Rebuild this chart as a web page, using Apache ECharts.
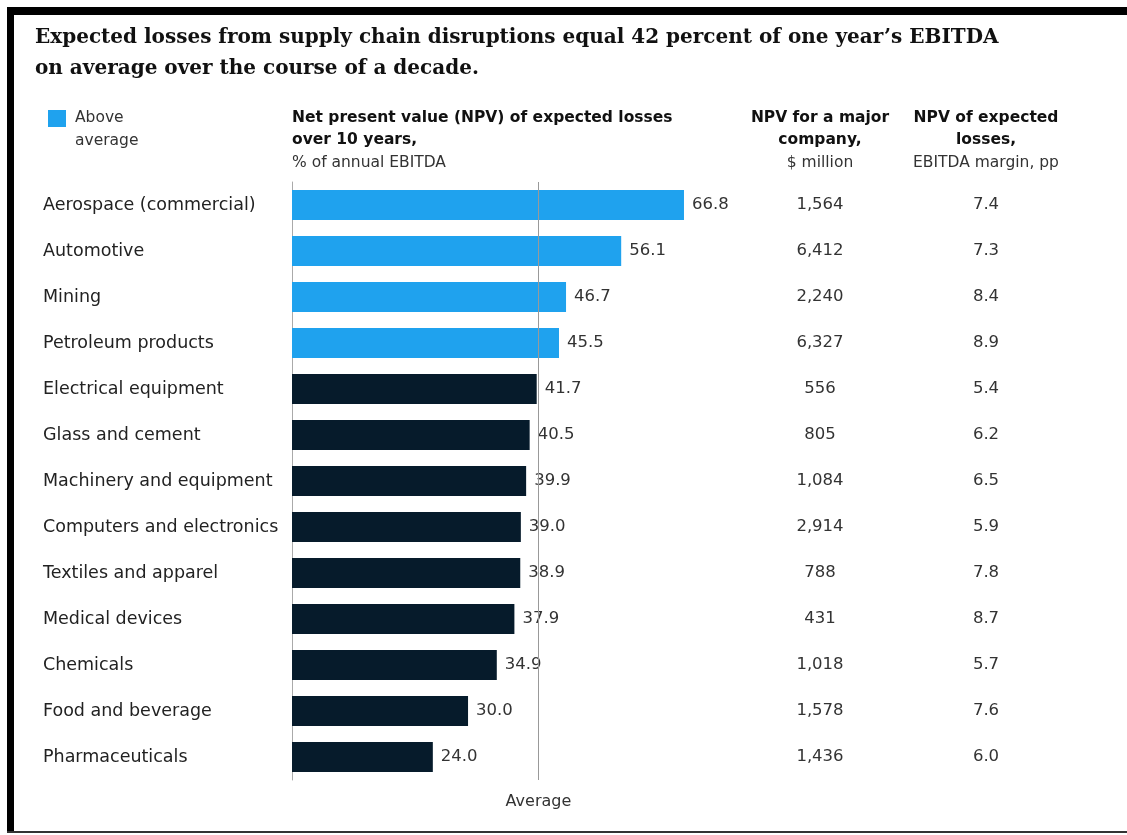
<!DOCTYPE html>
<html>
<head>
<meta charset="utf-8">
<script src="https://cdn.jsdelivr.net/npm/echarts@6/dist/echarts.min.js"></script>
<style>
  html, body { margin: 0; padding: 0; background: #fff; }
  #chart { width: 1127px; height: 835px; }
</style>
</head>
<body>
<div id="chart"></div>
<script>
// Industry rows, top to bottom
const categories = [
  'Aerospace (commercial)', 'Automotive', 'Mining', 'Petroleum products',
  'Electrical equipment', 'Glass and cement', 'Machinery and equipment',
  'Computers and electronics', 'Textiles and apparel', 'Medical devices',
  'Chemicals', 'Food and beverage', 'Pharmaceuticals'
];
// NPV of expected losses over 10 years, % of annual EBITDA
const npvPctEbitda = [66.8, 56.1, 46.7, 45.5, 41.7, 40.5, 39.9, 39.0, 38.9, 37.9, 34.9, 30.0, 24.0];
// NPV for a major company, $ million
const npvMajorCompany = [1564, 6412, 2240, 6327, 556, 805, 1084, 2914, 788, 431, 1018, 1578, 1436];
// NPV of expected losses, EBITDA margin, pp
const npvMarginPp = [7.4, 7.3, 8.4, 8.9, 5.4, 6.2, 6.5, 5.9, 7.8, 8.7, 5.7, 7.6, 6.0];
// Average across industries, % of annual EBITDA
const averageValue = 42;
// Industries flagged as above average
const aboveAverage = [true, true, true, true, false, false, false, false, false, false, false, false, false];

const SANS = '"DejaVu Sans", "Liberation Sans", Arial, sans-serif';
const SERIF = '"DejaVu Serif", "Liberation Serif", Georgia, serif';
const BLUE = '#1fa2ee';
const NAVY = '#061b2b';

const chart = echarts.init(document.getElementById('chart'), null, { renderer: 'canvas' });

const GRID_LEFT = 292;
const X_MAX = 70;
const PX_PER_UNIT = 5.868;
const GRID_WIDTH = X_MAX * PX_PER_UNIT;
const GRID_RIGHT_X = GRID_LEFT + GRID_WIDTH;
const COL3_X = 820;
const COL4_X = 986;

function headerText(x, y, text, bold, align) {
  return {
    type: 'text', x: x, y: y,
    style: {
      text: text,
      font: (bold ? 'bold ' : '') + '15.5px ' + SANS,
      fill: bold ? '#111' : '#333',
      align: align || 'left',
      verticalAlign: 'middle'
    }
  };
}

const option = {
  backgroundColor: '#fff',
  animation: false,
  grid: { left: GRID_LEFT, top: 182, width: GRID_WIDTH, bottom: 55, containLabel: false },
  xAxis: {
    type: 'value', min: 0, max: X_MAX,
    axisLine: { show: false }, axisTick: { show: false },
    axisLabel: { show: false }, splitLine: { show: false }
  },
  yAxis: [
    {
      type: 'category', data: categories, inverse: true,
      axisLine: { show: true, lineStyle: { color: '#aaa', width: 1 } },
      axisTick: { show: false },
      axisLabel: {
        align: 'left', margin: GRID_LEFT - 43,
        fontFamily: SANS, fontSize: 17.5, color: '#222'
      }
    },
    {
      type: 'category', data: categories, inverse: true, position: 'right',
      axisLine: { show: false }, axisTick: { show: false },
      axisLabel: {
        align: 'center', margin: COL3_X - GRID_RIGHT_X,
        fontFamily: SANS, fontSize: 16.5, color: '#333',
        formatter: (v, i) => npvMajorCompany[i].toLocaleString('en-US')
      }
    },
    {
      type: 'category', data: categories, inverse: true, position: 'right',
      axisLine: { show: false }, axisTick: { show: false },
      axisLabel: {
        align: 'center', margin: COL4_X - GRID_RIGHT_X,
        fontFamily: SANS, fontSize: 16.5, color: '#333',
        formatter: (v, i) => npvMarginPp[i].toFixed(1)
      }
    }
  ],
  series: [{
    type: 'bar',
    yAxisIndex: 0,
    barCategoryGap: '35%',
    data: npvPctEbitda.map((v, i) => ({
      value: v,
      itemStyle: { color: aboveAverage[i] ? BLUE : NAVY }
    })),
    label: {
      show: true, position: 'right', distance: 8,
      fontFamily: SANS, fontSize: 16.5, color: '#333',
      formatter: p => p.value.toFixed(1)
    },
    markLine: {
      silent: true, symbol: 'none',
      lineStyle: { color: '#999', width: 1, type: 'solid' },
      label: {
        show: true, position: 'end', formatter: 'Average',
        fontFamily: SANS, fontSize: 16, color: '#333', distance: 14
      },
      data: [{ xAxis: averageValue }]
    }
  }],
  graphic: [
    // frame
    { type: 'rect', shape: { x: 7, y: 7, width: 1120, height: 8 }, style: { fill: '#000' } },
    { type: 'rect', shape: { x: 7, y: 7, width: 7, height: 826 }, style: { fill: '#000' } },
    { type: 'rect', shape: { x: 7, y: 831, width: 1120, height: 2 }, style: { fill: '#333' } },
    // title
    {
      type: 'text', x: 35, y: 38,
      style: {
        text: 'Expected losses from supply chain disruptions equal 42 percent of one year\u2019s EBITDA',
        font: 'bold 20px ' + SERIF, fill: '#111', verticalAlign: 'middle'
      }
    },
    {
      type: 'text', x: 35, y: 69,
      style: {
        text: 'on average over the course of a decade.',
        font: 'bold 20px ' + SERIF, fill: '#111', verticalAlign: 'middle'
      }
    },
    // legend
    { type: 'rect', shape: { x: 48, y: 110, width: 18, height: 17 }, style: { fill: BLUE } },
    headerText(75, 118, 'Above', false),
    headerText(75, 141, 'average', false),
    // column headers
    headerText(GRID_LEFT, 118, 'Net present value (NPV) of expected losses', true),
    headerText(GRID_LEFT, 140, 'over 10 years,', true),
    headerText(GRID_LEFT, 163, '% of annual EBITDA', false),
    headerText(COL3_X, 118, 'NPV for a major', true, 'center'),
    headerText(COL3_X, 140, 'company,', true, 'center'),
    headerText(COL3_X, 163, '$ million', false, 'center'),
    headerText(COL4_X, 118, 'NPV of expected', true, 'center'),
    headerText(COL4_X, 140, 'losses,', true, 'center'),
    headerText(COL4_X, 163, 'EBITDA margin, pp', false, 'center')
  ]
};

chart.setOption(option);
</script>
</body>
</html>
